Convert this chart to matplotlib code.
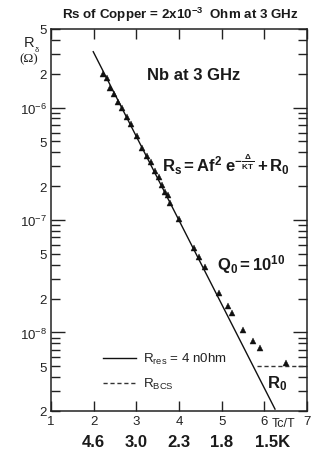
import numpy as np
import matplotlib
matplotlib.use("Agg")
import matplotlib.pyplot as plt
from matplotlib.ticker import LogLocator, FuncFormatter, FixedLocator
import matplotlib.transforms as mtransforms

plt.rcParams['font.family'] = ['Liberation Sans', 'DejaVu Sans']
plt.rcParams['mathtext.fontset'] = 'custom'
plt.rcParams['mathtext.rm'] = 'Liberation Sans'
plt.rcParams['mathtext.it'] = 'Liberation Sans:italic'
plt.rcParams['mathtext.bf'] = 'Liberation Sans:bold'
plt.rcParams['mathtext.default'] = 'regular'

# ---- data ----
tc_over_t = [2.23, 2.31, 2.38, 2.48, 2.56, 2.67, 2.78, 2.88, 3.02, 3.14, 3.25,
             3.34, 3.44, 3.53, 3.60, 3.67, 3.75, 3.80, 4.00, 4.36, 4.48, 4.62,
             4.94, 5.14, 5.25, 5.51, 5.73, 5.89, 6.51]
rs_meas = [1.99e-6, 1.83e-6, 1.49e-6, 1.32e-6, 1.12e-6, 9.9e-7, 8.2e-7, 7.1e-7,
           5.6e-7, 4.4e-7, 3.7e-7, 3.3e-7, 2.75e-7, 2.4e-7, 2.05e-7, 1.79e-7,
           1.67e-7, 1.41e-7, 1.03e-7, 5.6e-8, 4.7e-8, 3.8e-8, 2.26e-8, 1.71e-8,
           1.48e-8, 1.05e-8, 8.4e-9, 7.3e-9, 5.4e-9]
fit_x = [1.99, 6.25]
fit_r = [3.14e-6, 2.08e-9]
r0_x = [5.82, 7.0]
r0_r = [5.0e-9, 5.0e-9]
xticks = [1, 2, 3, 4, 5, 6, 7]
temp_x = [2, 3, 4, 5, 6]
temp_labels = ["4.6", "3.0", "2.3", "1.8", "1.5K"]

fig = plt.figure(figsize=(3.2, 4.56), dpi=100)
ax = fig.add_axes([51/320, 1-412/456, 256/320, 382/456])

ax.set_yscale('log')
ax.set_xlim(1, 7)
ax.set_ylim(2e-9, 5e-6)

k = '#111111'
ax.plot(fit_x, fit_r, color=k, lw=1.0, label=r"R$_{\mathregular{res}}$ = 4 n0hm")
ax.plot(r0_x, r0_r, color='#333333', lw=1.0, ls=(0, (3, 2)), label=r"R$_{\mathregular{BCS}}$")
ax.plot(tc_over_t, rs_meas, ls='none', marker='^', ms=3.8, color=k, mec=k, mew=0.3)

for s in ax.spines.values():
    s.set_linewidth(1.1)
    s.set_color('#222222')

ax.xaxis.set_major_locator(FixedLocator(xticks))
ax.set_xticklabels([str(v) for v in xticks])
ax.yaxis.set_major_locator(LogLocator(base=10, numticks=20))
ax.yaxis.set_minor_locator(LogLocator(base=10, subs=np.arange(2, 10), numticks=20))

def yfmt(v, pos):
    e = int(np.floor(np.log10(v) + 1e-9))
    m = v / 10**e
    if abs(m - 1) < 1e-3:
        return r"$10^{%d}$" % e
    if abs(m - 2) < 1e-3:
        return "2"
    if abs(m - 5) < 1e-3:
        return "5"
    return ""

ax.yaxis.set_major_formatter(FuncFormatter(yfmt))
ax.yaxis.set_minor_formatter(FuncFormatter(yfmt))

ax.tick_params(axis='y', which='major', direction='in', length=10, width=1.0,
               left=True, right=True, labelsize=9.5, pad=3, colors='#222222')
ax.tick_params(axis='y', which='minor', direction='in', length=6.5, width=1.0,
               left=True, right=True, labelsize=9.5, pad=3, colors='#222222')
ax.tick_params(axis='x', which='major', direction='in', length=7, width=1.0,
               top=True, bottom=True, labelsize=9.5, pad=3, colors='#222222')
ax.tick_params(axis='x', which='minor', bottom=False, top=False)

# Tc/T label
ax.text(0.908, -0.031, "Tc/T", transform=ax.transAxes, ha='center', va='center',
        fontsize=9, color='#222222')

# temperature row
trans = mtransforms.blended_transform_factory(ax.transData, ax.transAxes)
for xv, lab in zip(temp_x, temp_labels):
    off = mtransforms.offset_copy(trans, fig=fig, x=(8 if lab.endswith('K') else 0),
                                  y=0, units='dots')
    ax.text(xv, -0.081, lab, transform=off, ha='center', va='center',
            fontsize=12, fontweight='bold', color='#1a1a1a')

# title
fig.text(180/320, 1-15/456, r"Rs of Copper = 2x10$^{-3}$  Ohm at 3 GHz",
         ha='center', va='center', fontsize=9.6, fontweight='bold', color='#1a1a1a')

# y label
fig.text(29/320, 1-43/456, "R", ha='center', va='center', fontsize=10.5, color='#222222')
fig.text(36.5/320, 1-50/456, "δ", ha='center', va='center', fontsize=5.5, color='#222222')
fig.text(29/320, 1-59/456, "(Ω)", ha='center', va='center', fontsize=9.5,
         family='Liberation Serif', color='#222222')

# annotations
ax.text(0.559, 0.880, "Nb at 3 GHz", transform=ax.transAxes, ha='center', va='center',
        fontsize=12, fontweight='bold', color='#1a1a1a')
ax.text(0.434, 0.647, r"$\mathbf{R_s = Af^2\ e^{-\frac{\Delta}{KT}} + R_0}$",
        transform=ax.transAxes, ha='left', va='center', fontsize=12, color='#1a1a1a')
ax.text(0.648, 0.385, r"$\mathbf{Q_0 = 10^{10}}$", transform=ax.transAxes,
        ha='left', va='center', fontsize=12, color='#1a1a1a')
ax.text(0.883, 0.073, r"$\mathbf{R_0}$", transform=ax.transAxes, ha='center',
        va='center', fontsize=12, color='#1a1a1a')

leg = ax.legend(loc='center left', bbox_to_anchor=(0.203, 0.104), frameon=False,
                fontsize=9.6, handlelength=2.5, handletextpad=0.5, labelspacing=0.75,
                borderpad=0, borderaxespad=0)
for t in leg.get_texts():
    t.set_color('#222222')

fig.savefig("out.png", dpi=100)
